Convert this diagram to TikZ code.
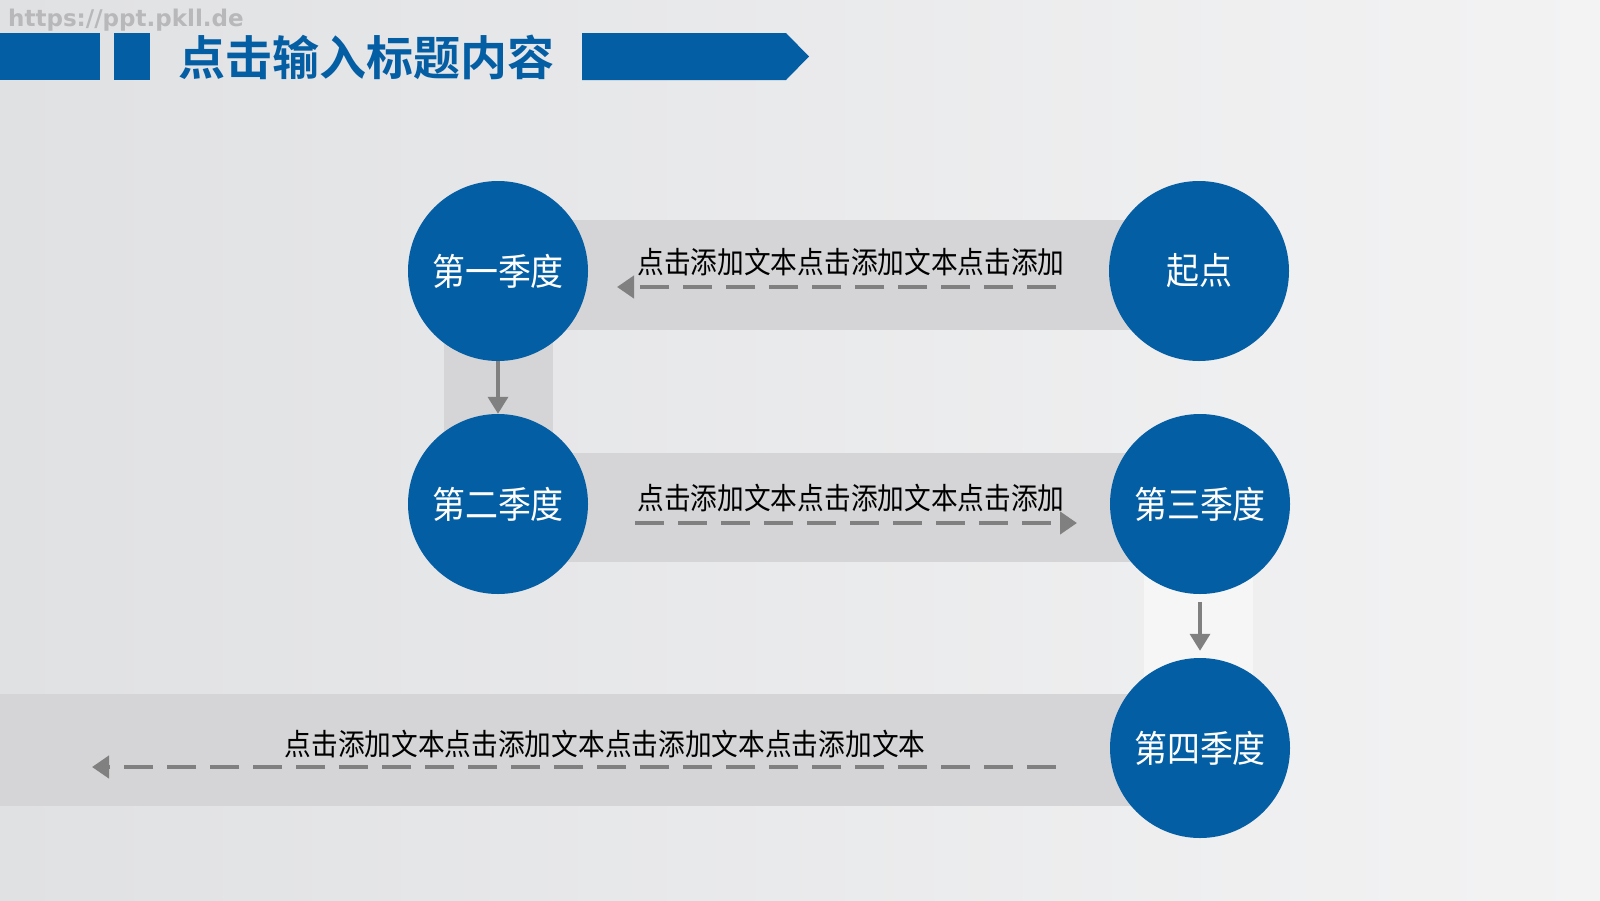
\documentclass[tikz,border=0pt]{standalone}
\usepackage{fontspec}
\usetikzlibrary{arrows.meta}
\newfontfamily\cjkn[FakeStretch=0.89]{Noto Sans CJK SC}
\newfontfamily\cjkb{Noto Sans CJK SC Bold}
\newfontfamily\urlfont{DejaVu Sans}
\definecolor{blueA}{RGB}{4,94,164}
\definecolor{bandC}{RGB}{213,213,215}
\definecolor{bandW}{RGB}{246,246,246}
\definecolor{arrC}{RGB}{128,128,128}
\definecolor{bgA}{RGB}{224,225,227}
\definecolor{bgB}{RGB}{243,243,244}
\definecolor{urlC}{RGB}{184,184,186}
\tikzset{
  circ/.style={circle, fill=blueA, minimum size=180pt, inner sep=0pt, text=white,
    font=\cjkn\fontsize{37}{37}\selectfont},
  lbl/.style={inner sep=0pt, text=black, font=\cjkn\fontsize{30}{30}\selectfont},
  dasharrow/.style={draw=arrC, line width=4.5pt, dash pattern=on 29pt off 14pt,
    -{Triangle[length=17pt,width=22pt]}},
  solidarrow/.style={draw=arrC, line width=3.5pt, -{Triangle[length=17pt,width=20pt]}},
}
\begin{document}
\begin{tikzpicture}[x=1pt,y=-1pt]
\useasboundingbox (0,0) rectangle (1600,900);
\shade[left color=bgA, right color=bgB] (0,0) rectangle (1600,900);
% header
\fill[blueA] (0,33) rectangle (100,80);
\fill[blueA] (114,33) rectangle (150,80);
\fill[blueA] (582,33) -- (786,33) -- (809,56.5) -- (786,80) -- (582,80) -- cycle;
\node[anchor=west, text=blueA, inner sep=0pt, font=\cjkb\fontsize{47}{47}\selectfont] (title) at (178,57) {点击输入标题内容};
\node[anchor=west, text=urlC, inner sep=0pt, font=\urlfont\bfseries\fontsize{23}{23}\selectfont] (url) at (8,20) {https://ppt.pkll.de};
% bands
\fill[bandC] (498,220) rectangle (1199,330);
\fill[bandC] (444,271) rectangle (553,504);
\fill[bandC] (498,453) rectangle (1200,562);
\fill[bandW] (1144,504) rectangle (1253,748);
\fill[bandC] (0,694) rectangle (1200,806);
% circles
\node[circ] (q0) at (1199,271) {起点};
\node[circ] (q1) at (498,271) {第一季度};
\node[circ] (q2) at (498,504) {第二季度};
\node[circ] (q3) at (1200,504) {第三季度};
\node[circ] (q4) at (1200,748) {第四季度};
% labels
\node[lbl] (t1) at (851,262) {点击添加文本点击添加文本点击添加};
\node[lbl] (t2) at (851,498) {点击添加文本点击添加文本点击添加};
\node[lbl] (t3) at (605,744) {点击添加文本点击添加文本点击添加文本点击添加文本};
% arrows
\coordinate (a1s) at (1056,287);
\coordinate (a1e) at (617,287);
\coordinate (a2s) at (635,523);
\coordinate (a2e) at (1077,523);
\coordinate (a3s) at (1056,767);
\coordinate (a3e) at (92,767);
\draw[dasharrow] (a1s) -- (a1e);
\draw[dasharrow] (a2s) -- (a2e);
\draw[dasharrow] (a3s) -- (a3e);
\draw[solidarrow] (q1) -- (q2);
\draw[solidarrow, shorten <=8pt, shorten >=7pt] (q3) -- (q4);
\end{tikzpicture}
\end{document}
